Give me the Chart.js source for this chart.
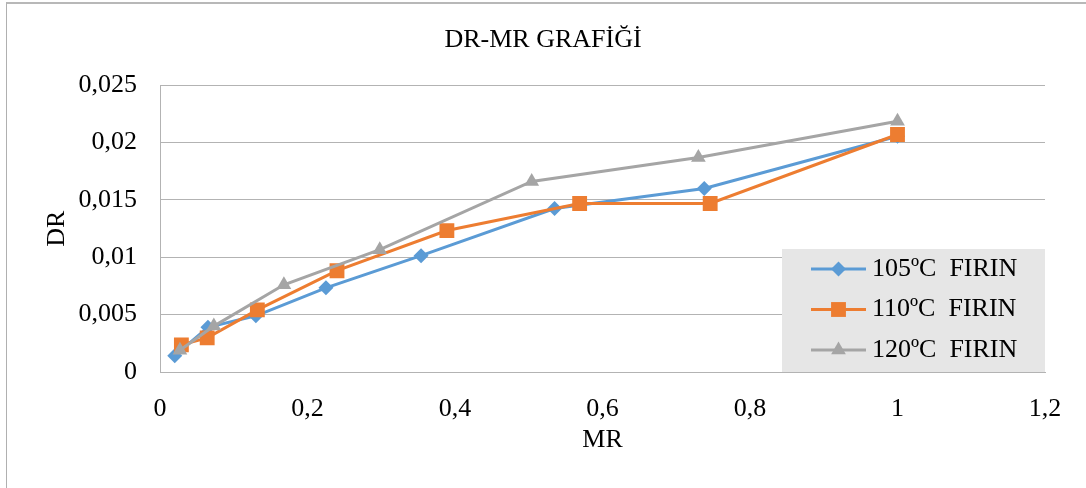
<!DOCTYPE html>
<html>
<head>
<meta charset="utf-8">
<title>DR-MR GRAFİĞİ</title>
<script src="https://cdn.jsdelivr.net/npm/chart.js@4/dist/chart.umd.min.js"></script>
<style>
  html, body { margin: 0; padding: 0; background: #fff; overflow: hidden; }
  #kutu { position: relative; width: 1086px; height: 488px; }
  #cerceve { position: absolute; left: 6px; top: 2px; width: 1200px; height: 600px;
             border-left: 1px solid #b0b0b0; border-top: 2px solid #b8b8b8; }
  #grafik { position: absolute; left: 0; top: 0; }
</style>
</head>
<body>
<div id="kutu">
  <div id="cerceve"></div>
  <canvas id="grafik" width="1086" height="488"></canvas>
</div>
<script>
// ===================== VERİLER =====================
const seriAdlari = ['105ºC  FIRIN', '110ºC  FIRIN', '120ºC  FIRIN'];

const mr105 = [0.020, 0.065, 0.130, 0.225, 0.354, 0.535, 0.738, 1.0];
const dr105 = [0.00142, 0.0039, 0.0049, 0.00734, 0.01014, 0.01425, 0.0160, 0.02055];

const mr110 = [0.029, 0.064, 0.132, 0.240, 0.389, 0.569, 0.746, 1.0];
const dr110 = [0.00236, 0.00297, 0.00542, 0.00883, 0.01233, 0.01469, 0.01469, 0.0207];

const mr120 = [0.027, 0.073, 0.168, 0.298, 0.504, 0.730, 1.0];
const dr120 = [0.0019, 0.0040, 0.0076, 0.01066, 0.01661, 0.0187, 0.02185];

const xEksenTikleri = [0, 0.2, 0.4, 0.6, 0.8, 1, 1.2];
const yEksenTikleri = [0, 0.005, 0.01, 0.015, 0.02, 0.025];

const renkler = ['#5B9BD5', '#ED7D31', '#A5A5A5'];
const isaretler = ['rectRot', 'rect', 'triangle'];
const isaretBoyu = [7.5, 10.5, 8.5];

const YAZI = "'Liberation Serif', 'Times New Roman', serif";

// ===================== YARDIMCILAR =====================
function noktalar(xs, ys){
  return xs.map((x, i) => ({ x: x, y: ys[i] }));
}

function virgullu(v, basamak){
  if(v === 0) return '0';
  return String(+v.toFixed(basamak)).replace('.', ',');
}

function seri(i, xs, ys){
  return {
    label: seriAdlari[i],
    data: noktalar(xs, ys),
    borderColor: renkler[i],
    backgroundColor: renkler[i],
    borderWidth: 3,
    pointStyle: isaretler[i],
    pointRadius: isaretBoyu[i],
    pointBorderWidth: 0,
    pointBackgroundColor: renkler[i],
    tension: 0,
    order: 3 - i
  };
}

// grafiğin içindeki gri kutulu açıklama
const aciklamaKutusu = {
  id: 'aciklamaKutusu',
  afterDraw(chart){
    const ctx = chart.ctx;
    const ca = chart.chartArea;
    const w = 263, h = 123;
    const sol = ca.right - w, ust = ca.bottom - h;
    ctx.save();
    ctx.fillStyle = '#E6E6E6';
    ctx.fillRect(sol, ust, w, h);
    ctx.font = '26px ' + YAZI;
    ctx.textBaseline = 'middle';
    ctx.textAlign = 'left';
    chart.data.datasets.forEach((ds, i) => {
      const y = ust + 20 + i * 40.5;
      ctx.strokeStyle = ds.borderColor;
      ctx.lineWidth = 3;
      ctx.beginPath();
      ctx.moveTo(sol + 29, y);
      ctx.lineTo(sol + 84, y);
      ctx.stroke();
      ctx.fillStyle = ds.backgroundColor;
      Chart.helpers.drawPoint(ctx, { pointStyle: ds.pointStyle, radius: ds.pointRadius, borderWidth: 0, rotation: 0 }, sol + 56.5, y);
      ctx.fillStyle = '#000';
      ctx.fillText(ds.label, sol + 90, y);
    });
    ctx.restore();
  }
};

// ===================== GRAFİK =====================
new Chart(document.getElementById('grafik'), {
  type: 'line',
  data: {
    datasets: [
      seri(0, mr105, dr105),
      seri(1, mr110, dr110),
      seri(2, mr120, dr120)
    ]
  },
  plugins: [aciklamaKutusu],
  options: {
    responsive: false,
    animation: false,
    layout: { padding: { left: 41, right: 41, top: 0, bottom: 0 } },
    plugins: {
      legend: { display: false },
      tooltip: { enabled: false },
      title: {
        display: true,
        text: 'DR-MR GRAFİĞİ',
        color: '#000',
        font: { family: YAZI, size: 26, weight: 'normal' },
        padding: { top: 25, bottom: 29 }
      }
    },
    scales: {
      x: {
        type: 'linear',
        min: 0,
        max: 1.2,
        afterBuildTicks: s => { s.ticks = xEksenTikleri.map(v => ({ value: v })); },
        afterFit: s => { s.height = 116; },
        grid: { display: false },
        border: { display: true, color: '#b3b3b3', width: 1 },
        ticks: {
          color: '#000',
          padding: 14,
          maxRotation: 0,
          font: { family: YAZI, size: 26 },
          callback: v => virgullu(v, 1)
        },
        title: {
          display: true,
          text: 'MR',
          color: '#000',
          font: { family: YAZI, size: 26 },
          padding: { top: 0, bottom: 32 }
        }
      },
      y: {
        min: 0,
        max: 0.025,
        afterBuildTicks: s => { s.ticks = yEksenTikleri.map(v => ({ value: v })); },
        afterFit: s => { s.width = 119; },
        grid: { color: '#b3b3b3', drawTicks: false, lineWidth: 1 },
        border: { display: true, color: '#b3b3b3', width: 1 },
        ticks: {
          color: '#000',
          padding: 23,
          font: { family: YAZI, size: 26 },
          callback: v => virgullu(v, 3)
        },
        title: {
          display: true,
          text: 'DR',
          color: '#000',
          font: { family: YAZI, size: 26 },
          padding: { top: 1, bottom: 0 }
        }
      }
    }
  }
});
</script>
</body>
</html>
